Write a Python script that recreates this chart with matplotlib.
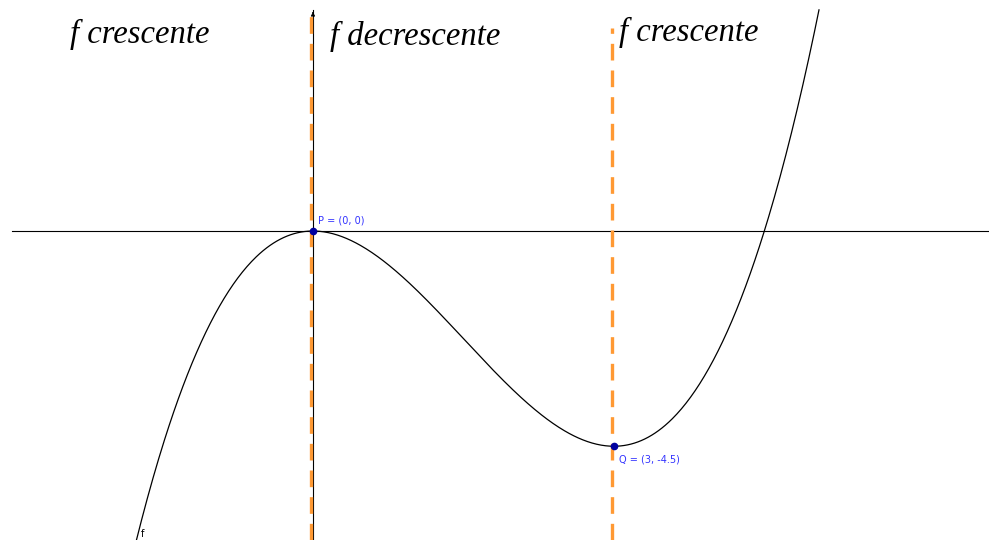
import numpy as np
import matplotlib.pyplot as plt

# f(x) = x^3/3 - 3x^2/2  (coeficientes, grau decrescente)
coef = [1 / 3, -3 / 2, 0, 0]
px, py = 0, 0
qx, qy = 3, -4.5
labels = ["f crescente", "f decrescente", "f crescente"]
label_x = [-2.42, 0.17, 3.05]
label_y = [3.93, 3.89, 3.98]

fig = plt.figure(figsize=(9.89, 5.4), dpi=100)
ax = fig.add_axes([0, 0, 1, 1])
ax.set_xlim(-3.12, 6.74)
ax.set_ylim(-6.46, 4.83)
ax.axis("off")

# eixos
ax.plot([-3.0, 6.74], [0, 0], color="black", lw=0.8)
ax.plot([0, 0], [-6.46, 4.62], color="black", lw=0.8)
ax.annotate("", xy=(0, 4.64), xytext=(0, 4.5),
            arrowprops=dict(arrowstyle="-|>", color="black", lw=0.6,
                            mutation_scale=6))

# retas tracejadas
ax.plot([px - 0.02, px - 0.02], [-6.46, 4.58], color="#ff9933", lw=2.4,
        dashes=(5, 3))
ax.plot([qx - 0.02, qx - 0.02], [-6.46, 4.25], color="#ff9933", lw=2.4,
        dashes=(5, 3))

# curva (até o topo da janela gráfica)
xs = np.linspace(-1.8, 5.045, 600)
ax.plot(xs, np.polyval(coef, xs), color="black", lw=0.9)

# pontos
ax.plot([px, qx], [py, qy], "o", color="#0000a0", ms=4.5, zorder=5)
ax.text(px + 0.05, py + 0.15, "P = (0, 0)", color="#3333ff", fontsize=7)
ax.text(qx + 0.05, qy - 0.35, "Q = (3, -4.5)", color="#3333ff", fontsize=7)
ax.text(-1.72, -6.4, "f", color="black", fontsize=7)

for t, x, y in zip(labels, label_x, label_y):
    ax.text(x, y, t, family="Liberation Serif", style="italic",
            fontsize=23.5, color="black")

fig.savefig("out.png", dpi=100)
